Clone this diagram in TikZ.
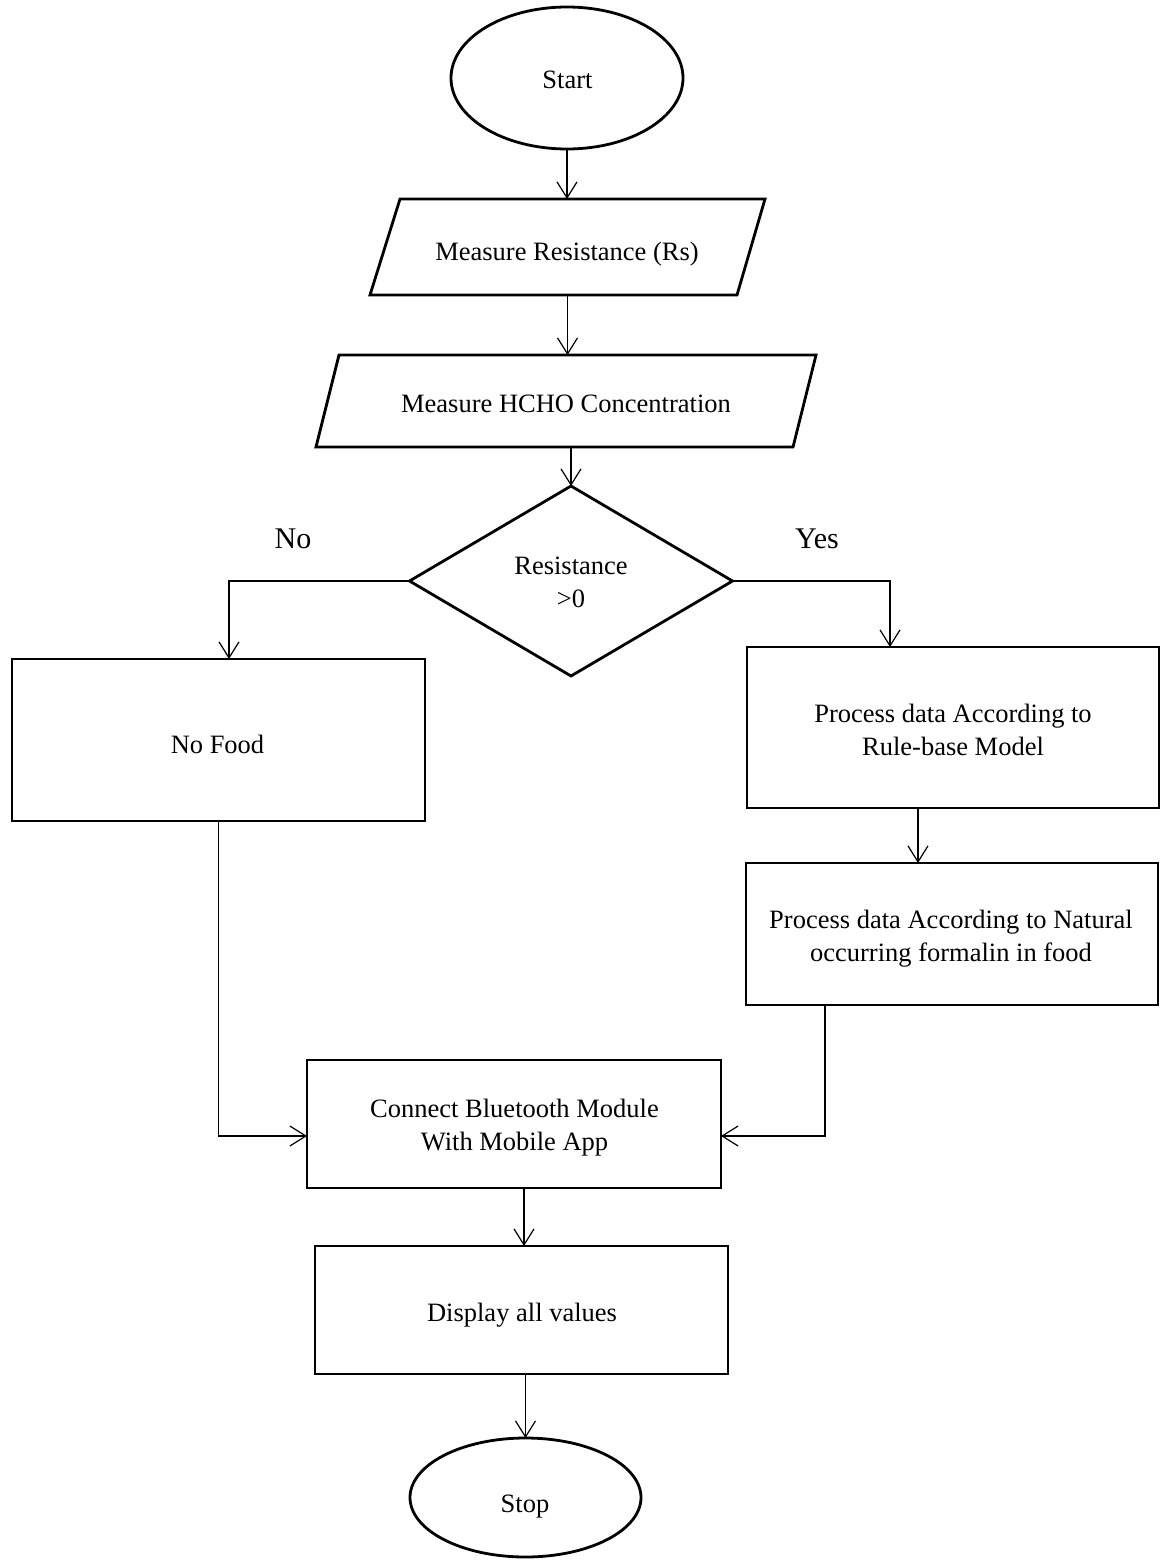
\documentclass[tikz,border=0pt]{standalone}
\usepackage{fontspec}
\setmainfont{Liberation Serif}
\usetikzlibrary{shapes.geometric,arrows.meta,calc}
\begin{document}
\begin{tikzpicture}[x=1pt,y=-1pt,
  every node/.style={inner sep=0pt, outer sep=0pt},
  txt/.style={font=\fontsize{26.5}{33}\selectfont, align=center},
  shapeline/.style={line width=2.8pt},
  procbox/.style={draw, shapeline, rectangle},
  term/.style={draw, shapeline, ellipse},
  iobox/.style={rectangle},
  decide/.style={draw, shapeline, diamond},
  lbl/.style={font=\fontsize{30}{36}\selectfont, anchor=base},
  arr/.style={line width=1.2pt, -{Straight Barb[length=16pt,width=20pt,line width=1.2pt]}}
]
\useasboundingbox (0,0) rectangle (1160,1560);

% shapes
\node[term, minimum width=232pt, minimum height=142pt] (start) at (567,78) {};
\node[iobox, minimum width=395pt, minimum height=96pt] (io1) at (567.5,247) {};
\node[iobox, minimum width=500pt, minimum height=92pt] (io2) at (566,401) {};
\node[decide, minimum width=323pt, minimum height=190pt] (dia) at (571,581) {};
\node[procbox, minimum width=413pt, minimum height=162pt] (nofood) at (218.5,740) {};
\node[procbox, minimum width=412pt, minimum height=161pt] (proc1) at (953,727.5) {};
\node[procbox, minimum width=412pt, minimum height=142pt] (proc2) at (952,934) {};
\node[procbox, minimum width=414pt, minimum height=128pt] (conn) at (514,1124) {};
\node[procbox, minimum width=413pt, minimum height=128pt] (disp) at (521.5,1310) {};
\node[term, minimum width=231pt, minimum height=119pt] (stop) at (525.5,1497.5) {};

% parallelogram outlines
\draw[shapeline, line join=miter] ($(io1.north west)+(30,0)$) -- (io1.north east) -- ($(io1.south east)+(-28,0)$) -- (io1.south west) -- cycle;
\draw[shapeline, line join=miter] ($(io2.north west)+(23,0)$) -- (io2.north east) -- ($(io2.south east)+(-23,0)$) -- (io2.south west) -- cycle;

% texts
\node[txt, anchor=base] (startT) at (567.5,89) {Start};
\node[txt, anchor=base] (io1T) at (567,260) {Measure Resistance (Rs)};
\node[txt, anchor=base] (io2T) at (566,412) {Measure HCHO Concentration};
\node[txt] (diaT) at (571,582.5) {Resistance\\>0};
\node[txt, anchor=base] (nofoodT) at (217.5,753) {No Food};
\node[txt] (proc1T) at (953,730) {Process data According to\\Rule-base Model};
\node[txt] (proc2T) at (951,939) {Process data According to Natural\\occurring formalin in food};
\node[txt] (connT) at (514.5,1128) {Connect Bluetooth Module\\With Mobile App};
\node[txt, anchor=base] (dispT) at (522,1321) {Display all values};
\node[txt, anchor=base] (stopT) at (525,1512) {Stop};

\node[lbl] (no) at (293,548) {No};
\node[lbl] (yes) at (817,548) {Yes};

% connectors
\draw[arr] (start.south) -- (start.south |- io1.north);
\draw[arr] (io1.south) -- (io1.south |- io2.north);
\draw[arr] (dia.north |- io2.south) -- (dia.north);
\draw[arr] (dia.west) -| ([xshift=10.5pt]nofood.north);
\draw[arr] (dia.east) -| ([xshift=-63pt]proc1.north);
\draw[arr] ([xshift=-35pt]proc1.south) -- ([xshift=-35pt]proc1.south |- proc2.north);
\draw[arr] ([xshift=-127pt]proc2.south) |- ([yshift=-12pt]conn.east);
\draw[arr] (nofood.south) |- ([yshift=-12pt]conn.west);
\draw[arr] ([xshift=10pt]conn.south) -- ([xshift=10pt]conn.south |- disp.north);
\draw[arr] (stop.north |- disp.south) -- (stop.north);
\end{tikzpicture}
\end{document}
